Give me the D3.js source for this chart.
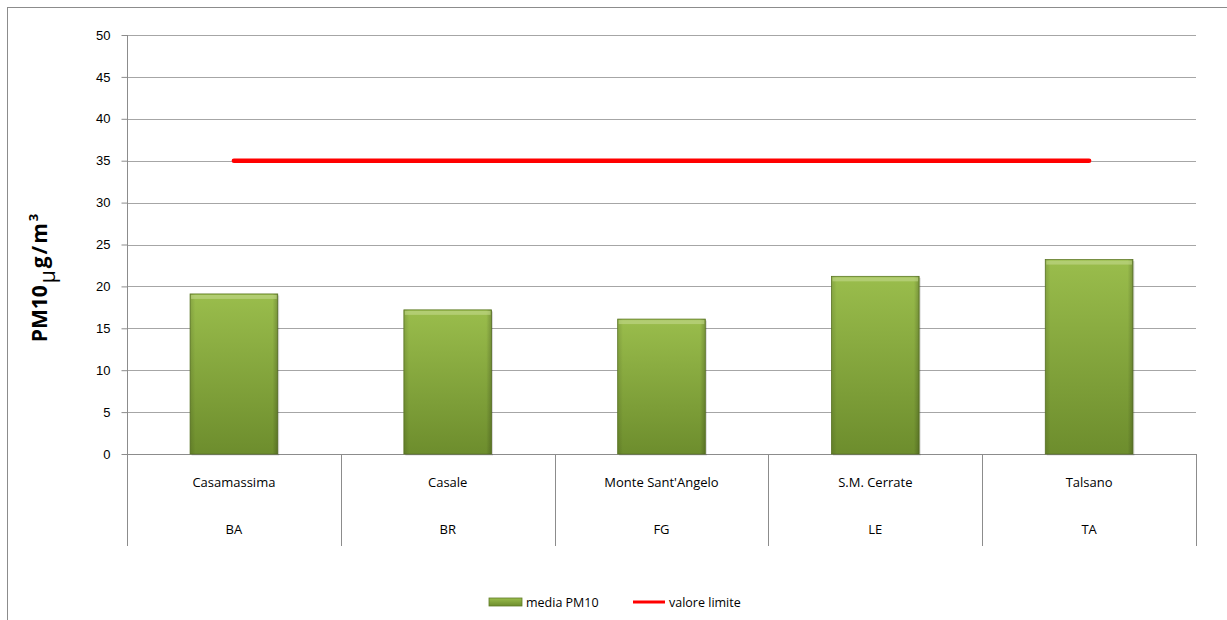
<!DOCTYPE html>
<html>
<head>
<meta charset="utf-8">
<script src="https://cdn.jsdelivr.net/npm/d3@7"></script>
<style>
  body { margin: 0; background: #fff; }
  svg { font-family: "Open Sans", "Noto Sans", sans-serif; }
</style>
</head>
<body>
<div id="chart"></div>
<script>
// chart data
var stations = ["Casamassima", "Casale", "Monte Sant'Angelo", "S.M. Cerrate", "Talsano"];
var provinces = ["BA", "BR", "FG", "LE", "TA"];
var mediaPM10 = [19.1, 17.2, 16.1, 21.2, 23.2];
var valoreLimite = [35, 35, 35, 35, 35];
var yTicks = [0, 5, 10, 15, 20, 25, 30, 35, 40, 45, 50];
var legendLabels = ["media PM10", "valore limite"];

var svgWidth = 1227;
var svgHeight = 620;
var margin = {top: 35, right: 31, bottom: 166, left: 127};
var width = svgWidth - margin.left - margin.right;
var height = svgHeight - margin.top - margin.bottom;

var svg = d3.select("#chart")
    .append("svg")
    .attr("width", svgWidth)
    .attr("height", svgHeight);

// outer chart frame
svg.append("rect")
    .attr("x", 7.5).attr("y", 7.5)
    .attr("width", 1240).attr("height", 640)
    .attr("fill", "#fff")
    .attr("stroke", "#8c8c8c");

var defs = svg.append("defs");
var grad = defs.append("linearGradient")
    .attr("id", "barGrad")
    .attr("x1", 0).attr("y1", 0).attr("x2", 0).attr("y2", 1);
grad.append("stop").attr("offset", "0%").attr("stop-color", "#9abd4c");
grad.append("stop").attr("offset", "100%").attr("stop-color", "#6d8d2d");

var sideGrad = defs.append("linearGradient")
    .attr("id", "sideGrad")
    .attr("x1", 0).attr("y1", 0).attr("x2", 1).attr("y2", 0);
sideGrad.append("stop").attr("offset", "0%").attr("stop-color", "#000").attr("stop-opacity", 0.12);
sideGrad.append("stop").attr("offset", "6%").attr("stop-color", "#000").attr("stop-opacity", 0);
sideGrad.append("stop").attr("offset", "94%").attr("stop-color", "#000").attr("stop-opacity", 0);
sideGrad.append("stop").attr("offset", "100%").attr("stop-color", "#000").attr("stop-opacity", 0.2);

var chart = svg.append("g")
    .attr("transform", "translate(" + margin.left + "," + margin.top + ")");

var x = d3.scaleBand().domain(stations).range([0, width]).paddingInner(0).paddingOuter(0);
var y = d3.scaleLinear().domain([0, 50]).range([height, 0]);

// gridlines
chart.append("g")
    .selectAll("line")
    .data(yTicks.slice(1))
    .enter()
    .append("line")
    .attr("x1", 0).attr("x2", width)
    .attr("y1", d => Math.round(y(d)) + 0.5)
    .attr("y2", d => Math.round(y(d)) + 0.5)
    .attr("stroke", "#a6a6a6");

// y axis
var leftAxis = d3.axisLeft(y).tickValues(yTicks).tickSize(6).tickPadding(11);
var yAxis = chart.append("g").attr("transform", "translate(0.5,0)").call(leftAxis);
yAxis.select(".domain").attr("stroke", "#8c8c8c").attr("d", "M0,0V" + height);
yAxis.selectAll(".tick line").attr("stroke", "#8c8c8c");
yAxis.selectAll(".tick text").attr("font-size", 13).attr("fill", "#000");

// category axis (two rows)
var catAxis = chart.append("g").attr("transform", "translate(0," + height + ")");
catAxis.append("line")
    .attr("x1", 0).attr("x2", width)
    .attr("y1", 0.5).attr("y2", 0.5)
    .attr("stroke", "#8c8c8c");
catAxis.selectAll(".sep")
    .data(d3.range(stations.length + 1))
    .enter()
    .append("line")
    .attr("x1", i => Math.round(i * x.step()) + 0.5)
    .attr("x2", i => Math.round(i * x.step()) + 0.5)
    .attr("y1", 0).attr("y2", 92)
    .attr("stroke", "#8c8c8c");
catAxis.selectAll(".name")
    .data(stations)
    .enter()
    .append("text")
    .attr("x", d => x(d) + x.bandwidth() / 2)
    .attr("y", 33)
    .attr("text-anchor", "middle")
    .attr("font-size", 13)
    .text(d => d);
catAxis.selectAll(".prov")
    .data(provinces)
    .enter()
    .append("text")
    .attr("x", (d, i) => x(stations[i]) + x.bandwidth() / 2)
    .attr("y", 80)
    .attr("text-anchor", "middle")
    .attr("font-size", 13)
    .text(d => d);

// bars
var barW = x.bandwidth() * 0.41;
var bars = chart.append("g").selectAll("g")
    .data(mediaPM10)
    .enter()
    .append("g");
bars.append("rect")
    .attr("x", (d, i) => x(stations[i]) + (x.bandwidth() - barW) / 2 + 1.5)
    .attr("y", d => y(d) + 1.5)
    .attr("width", barW)
    .attr("height", d => height - y(d))
    .attr("fill", "#000")
    .attr("opacity", 0.15);
bars.append("rect")
    .attr("x", (d, i) => x(stations[i]) + (x.bandwidth() - barW) / 2)
    .attr("y", d => y(d))
    .attr("width", barW)
    .attr("height", d => height - y(d))
    .attr("fill", "url(#barGrad)")
    .attr("stroke", "#5f7a27")
    .attr("stroke-width", 0.8);
bars.append("rect")
    .attr("x", (d, i) => x(stations[i]) + (x.bandwidth() - barW) / 2)
    .attr("y", d => y(d))
    .attr("width", barW)
    .attr("height", d => height - y(d))
    .attr("fill", "url(#sideGrad)");
bars.append("rect")
    .attr("x", (d, i) => x(stations[i]) + (x.bandwidth() - barW) / 2 + 1)
    .attr("y", d => y(d) + 1)
    .attr("width", barW - 2)
    .attr("height", 4)
    .attr("fill", "#c3d98c")
    .attr("opacity", 0.6);

// limit line
var line = d3.line()
    .x((d, i) => x(stations[i]) + x.bandwidth() / 2)
    .y(d => y(d));
chart.append("path")
    .datum(valoreLimite)
    .attr("d", line)
    .attr("fill", "none")
    .attr("stroke", "#ff0000")
    .attr("stroke-width", 4.5)
    .attr("stroke-linecap", "round");

// y axis title
var yTitle = svg.append("text")
    .attr("transform", "translate(47,278) rotate(-90)")
    .attr("text-anchor", "middle")
    .attr("font-size", 21)
    .attr("font-weight", "bold");
yTitle.append("tspan").text("PM10");
yTitle.append("tspan").attr("dy", 8).attr("font-weight", "normal").attr("dx", 2).text("\u03bc");
yTitle.append("tspan").attr("dy", -8).attr("dx", 2).attr("letter-spacing", 2).text("g/m");
yTitle.append("tspan").attr("dy", -9).attr("font-size", 13).text("3");

// legend
var legend = svg.append("g").attr("transform", "translate(0,602)");
legend.append("rect")
    .attr("x", 489).attr("y", -4)
    .attr("width", 33).attr("height", 8)
    .attr("fill", "url(#barGrad)")
    .attr("stroke", "#5f7a27")
    .attr("stroke-width", 0.8);
legend.append("text")
    .attr("x", 526).attr("y", 5)
    .attr("font-size", 12.5)
    .text(legendLabels[0]);
legend.append("line")
    .attr("x1", 633).attr("x2", 665)
    .attr("y1", 0).attr("y2", 0)
    .attr("stroke", "#ff0000")
    .attr("stroke-width", 3);
legend.append("text")
    .attr("x", 669).attr("y", 5)
    .attr("font-size", 12.5)
    .text(legendLabels[1]);
</script>
</body>
</html>
